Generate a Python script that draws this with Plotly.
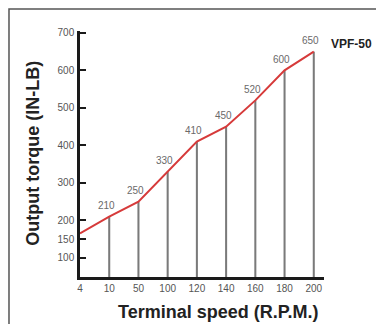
import plotly.graph_objects as go

# Terminal speed (R.P.M.) categories and output torque (IN-LB)
speeds = ["4", "10", "50", "100", "120", "140", "160", "180", "200"]
torque = [165, 210, 250, 330, 410, 450, 520, 600, 650]
labels = ["", "210", "250", "330", "410", "450", "520", "600", "650"]

y_tickvals = [100, 150, 200, 300, 400, 500, 600, 700]
model_name = "VPF-50"

fig = go.Figure()

# thin gray stems under each point (skip the first, it sits on the axis)
fig.add_trace(go.Bar(
    x=speeds[1:],
    y=torque[1:],
    width=0.07,
    marker=dict(color="#7a7a7a", line=dict(width=0)),
    hoverinfo="skip",
))

# red torque curve
fig.add_trace(go.Scatter(
    x=speeds,
    y=torque,
    mode="lines",
    line=dict(color="#d63a3a", width=2),
    cliponaxis=False,
))

# value labels, a little above and left of each point
# (category axis: annotation x given as the category index)
for i, (t, lab) in enumerate(zip(torque, labels)):
    if lab:
        fig.add_annotation(
            x=i, y=t, text=lab, showarrow=False,
            xanchor="center", yanchor="middle", xshift=-3, yshift=11,
            font=dict(family="Liberation Sans", size=10, color="#6a6a6a"),
        )

fig.add_annotation(
    x=len(speeds) - 1, y=torque[-1], text="<b>" + model_name + "</b>",
    showarrow=False, xanchor="left", yanchor="middle",
    xshift=15, yshift=8,
    font=dict(family="Liberation Sans", size=12, color="#222222"),
)

# axis titles
fig.add_annotation(
    xref="paper", yref="paper", x=0.566, y=-0.142,
    text="<b>Terminal speed (R.P.M.)</b>", showarrow=False,
    xanchor="center", yanchor="middle",
    font=dict(family="Liberation Sans", size=18, color="#222222"),
)
fig.add_annotation(
    xref="paper", yref="paper", x=-0.193, y=0.505,
    text="<b>Output torque (IN-LB)</b>", showarrow=False, textangle=-90,
    xanchor="center", yanchor="middle",
    font=dict(family="Liberation Sans", size=18, color="#222222"),
)

# outer frame
fig.add_shape(
    type="rect", xref="paper", yref="paper",
    x0=-0.291, x1=1.3, y0=-0.25, y1=1.089,
    line=dict(color="#555555", width=1.5),
)

# page body adds an 8px offset, so the figure is kept 8px smaller
fig.update_layout(
    width=376,
    height=316,
    margin=dict(l=72, r=60, t=23, b=47),
    paper_bgcolor="white",
    plot_bgcolor="white",
    showlegend=False,
    xaxis=dict(
        type="category",
        categoryorder="array",
        categoryarray=speeds,
        range=[0, 8.35],
        automargin=False,
        showline=True,
        linecolor="#1a1a1a",
        linewidth=2.5,
        showgrid=False,
        zeroline=False,
        ticks="",
        tickfont=dict(family="Liberation Sans", size=10, color="#555555"),
    ),
    yaxis=dict(
        range=[49, 705],
        tickvals=y_tickvals,
        automargin=False,
        showline=True,
        linecolor="#1a1a1a",
        linewidth=2.5,
        showgrid=False,
        zeroline=False,
        ticks="inside",
        ticklen=6,
        tickwidth=2,
        tickcolor="#1a1a1a",
        ticklabelstandoff=1,
        tickfont=dict(family="Liberation Sans", size=10, color="#555555"),
    ),
)

fig.write_html("out.html")
